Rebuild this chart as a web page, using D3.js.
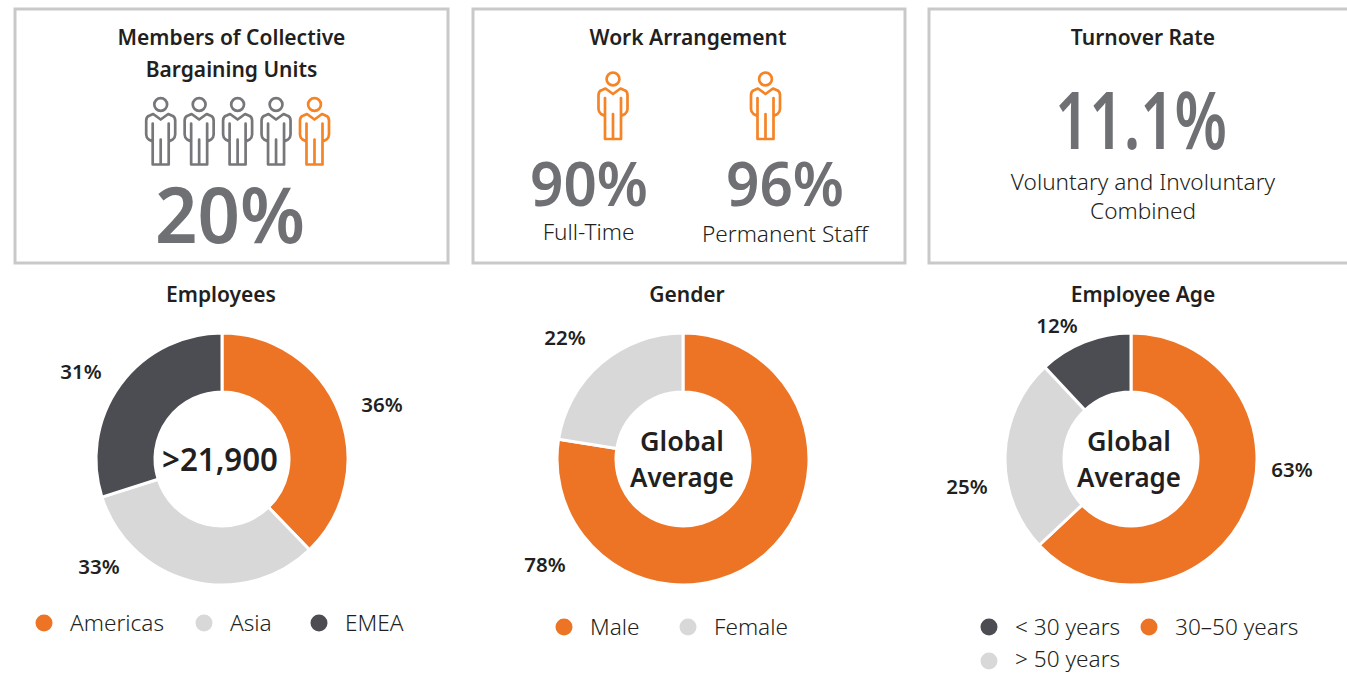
<!DOCTYPE html>
<html lang="en">
<head>
<meta charset="UTF-8">
<title>Workforce overview</title>
<script src="https://d3js.org/d3.v7.min.js"></script>
<style>
  html, body { margin: 0; padding: 0; background: #fff; overflow: hidden; }
  svg { display: block; }
  text { font-family: "Noto Sans", sans-serif; fill: #231f20; text-anchor: middle; }
  .title { font-size: 21px; font-weight: 600; }
  .big { font-weight: 600; fill: #6f7074; }
  .note { font-size: 22.6px; font-weight: 300; }
  .pct { font-size: 20.5px; font-weight: 600; }
  .center { font-size: 27px; font-weight: 600; }
  .legend text { font-size: 22.6px; font-weight: 300; text-anchor: start; }
</style>
</head>
<body>
<div id="chart"></div>
<script>
// Values
const employeeRegions = ["Americas", "Asia", "EMEA"];
const employeeLabels = [36, 33, 31];
// the drawn slices are not quite the printed percentages, so these are measured from the arcs
const employeeArcs = [37.8, 32.3, 29.9];
const genderLabels = ["Male", "Female"];
const genderShares = [78, 22];
const genderArcs = [77.5, 22.5];
const ageLabels = ["30–50 years", "> 50 years", "< 30 years"];
const ageShares = [63, 25, 12];
const bargainingIcons = [0, 0, 0, 0, 1]; // 1 = highlighted

const orange = "#ed7425", light = "#d8d8d8", dark = "#4c4d52";
const grey = "#77777b", iconOrange = "#f58426";

const width = 1347, height = 673;
const svg = d3.select("#chart").append("svg")
  .attr("width", width).attr("height", height);

// Top boxes
[[15, 433], [473, 432], [929, 440]].forEach(([x, w]) => {
  svg.append("rect").attr("x", x).attr("y", 9).attr("width", w).attr("height", 254)
    .attr("fill", "none").attr("stroke", "#c9c9c9").attr("stroke-width", 3);
});

// fit squeezes the glyphs to a set width, the original face is narrower than Noto
function label(x, y, str, cls, size, fit) {
  const t = svg.append("text").attr("x", x).attr("y", y).attr("class", cls).text(str);
  if (size) t.style("font-size", size + "px");
  if (fit) t.attr("textLength", fit).attr("lengthAdjust", "spacingAndGlyphs");
  return t;
}

// Person icon, origin at the centre of the head
function person(x, y, color) {
  const g = svg.append("g").attr("transform", `translate(${x},${y})`)
    .attr("fill", "none").attr("stroke", color).attr("stroke-width", 2.7)
    .attr("stroke-linejoin", "round").attr("stroke-linecap", "round");
  g.append("circle").attr("r", 6.4);
  g.append("path").attr("d",
    "M-8,19V60H8V19M0,35V60" +
    "M-8,37L-12,35Q-14.5,33 -14.5,30V16Q-14.5,12 -11,11L-7.5,9.5L0,15L7.5,9.5L11,11Q14.5,12 14.5,16V30Q14.5,33 12,35L8,37");
}

// Box 1
label(231.5, 45, "Members of Collective", "title");
label(231.5, 77, "Bargaining Units", "title");
const iconX = d3.scalePoint().domain(d3.range(bargainingIcons.length)).range([160.7, 314.5]);
bargainingIcons.forEach((v, i) => person(iconX(i), 104.5, v ? iconOrange : grey));
label(230, 243, "20%", "big", 78, 150);

// Box 2
label(688, 45, "Work Arrangement", "title");
person(613, 79, iconOrange);
person(765.5, 79, iconOrange);
label(589, 206, "90%", "big", 62, 118);
label(785, 206, "96%", "big", 62, 118);
label(588.5, 240, "Full-Time", "note");
label(785, 242, "Permanent Staff", "note");

// Box 3
label(1143, 45, "Turnover Rate", "title");
label(1141, 149, "11.1%", "big", 79, 172);
label(1143, 190, "Voluntary and Involuntary", "note");
label(1143, 219, "Combined", "note");

// Donuts
const pie = d3.pie().sort(null).value(d => d);
const arc = d3.arc().innerRadius(67).outerRadius(126);

function donut(cx, arcs, printed, colors, pctPos) {
  svg.append("g").attr("transform", `translate(${cx},459)`)
    .selectAll("path").data(pie(arcs)).join("path")
    .attr("d", arc)
    .attr("fill", (d, i) => colors[i])
    .attr("stroke", "#fff").attr("stroke-width", 3);
  printed.forEach((v, i) => label(pctPos[i][0], pctPos[i][1], v + "%", "pct"));
}

function legend(items) {
  const g = svg.append("g").attr("class", "legend");
  items.forEach(d => {
    g.append("circle").attr("cx", d.x).attr("cy", d.y).attr("r", 8.5).attr("fill", d.color);
    g.append("text").attr("x", d.x + 26).attr("y", d.base).text(d.name);
  });
}

label(221, 302, "Employees", "title");
donut(222, employeeArcs, employeeLabels, [orange, light, dark], [[382, 412], [99, 574], [81, 379]]);
label(220, 471, ">21,900", "center", 32, 116);
legend([
  {name: employeeRegions[0], x: 44, y: 623, base: 631, color: orange},
  {name: employeeRegions[1], x: 204, y: 623, base: 631, color: light},
  {name: employeeRegions[2], x: 319, y: 623, base: 631, color: dark}
]);

label(687, 302, "Gender", "title");
donut(683, genderArcs, genderShares, [orange, light], [[545, 572], [565, 345]]);
label(682, 451, "Global", "center", 27, 84);
label(682, 487, "Average", "center", 27, 104);
legend([
  {name: genderLabels[0], x: 564, y: 627, base: 635, color: orange},
  {name: genderLabels[1], x: 688, y: 627, base: 635, color: light}
]);

label(1143, 302, "Employee Age", "title");
donut(1131, ageShares, ageShares, [orange, light, dark], [[1292, 477], [967, 494], [1057, 333]]);
label(1129, 451, "Global", "center", 27, 84);
label(1129, 487, "Average", "center", 27, 104);
legend([
  {name: ageLabels[2], x: 989, y: 627, base: 635, color: dark},
  {name: ageLabels[0], x: 1149, y: 627, base: 635, color: orange},
  {name: ageLabels[1], x: 989, y: 661, base: 667, color: light}
]);
</script>
</body>
</html>
